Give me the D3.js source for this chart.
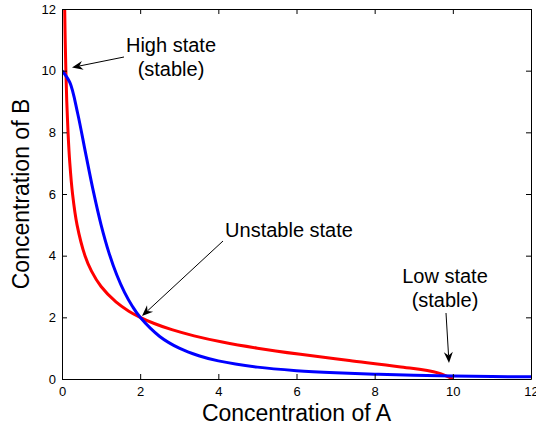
<!DOCTYPE html>
<html>
<head>
<meta charset="utf-8">
<script src="https://cdn.jsdelivr.net/npm/d3@7"></script>
<style>
  html, body { margin: 0; padding: 0; background: #fff; }
  svg { display: block; }
  text { font-family: "Liberation Sans", Arial, Helvetica, sans-serif; fill: #000; }
</style>
</head>
<body>
<svg id="chart" width="536" height="428"></svg>
<script>
// ---- Data ----
// Blue curve: B as a function of A
const blueA = [0, 0.2, 0.4, 0.6, 0.8, 1.0, 1.2, 1.4, 1.6, 1.8, 2.0, 2.5, 3.0, 3.5, 4.0, 5.0, 6.0, 7.0, 8.0, 9.0, 10.0, 11.0, 12.0];
const blueB = [10, 9.62, 8.62, 7.35, 6.10, 5.00, 4.10, 3.38, 2.81, 2.36, 2.00, 1.38, 1.00, 0.755, 0.588, 0.385, 0.270, 0.200, 0.154, 0.122, 0.099, 0.082, 0.069];
// Red curve: A as a function of B
const redB = [12.5, 12, 11, 10, 9, 8, 7, 6, 5, 4, 3.5, 3.0, 2.5, 2.2, 2.0, 1.8, 1.6, 1.4, 1.2, 1.0, 0.8, 0.6, 0.4, 0.2, 0];
const redA = [0.064, 0.069, 0.082, 0.099, 0.122, 0.154, 0.200, 0.270, 0.385, 0.588, 0.755, 1.00, 1.38, 1.71, 2.00, 2.36, 2.81, 3.38, 4.10, 5.00, 6.10, 7.35, 8.62, 9.62, 10.0];
// Steady states
const stateNames = ["High state|(stable)", "Unstable state", "Low state|(stable)"];
const stateA = [0.1, 2, 10];
const stateB = [10, 2, 0.1];
// Axis ticks
const xTicks = [0, 2, 4, 6, 8, 10, 12];
const yTicks = [0, 2, 4, 6, 8, 10, 12];
const xLabel = "Concentration of A";
const yLabel = "Concentration of B";

// ---- Layout ----
const svg = d3.select("#chart");
const L = 62, R = 531, T = 9, B = 379;
const x = d3.scaleLinear().domain([0, 12]).range([L, R]);
const y = d3.scaleLinear().domain([0, 12]).range([B, T]);

svg.append("rect").attr("width", 536).attr("height", 428).attr("fill", "#fff");

svg.append("defs").append("clipPath").attr("id", "clip")
  .append("rect").attr("x", L).attr("y", T).attr("width", R - L).attr("height", B - T);

// Curves
const line = d3.line().x(d => x(d[0])).y(d => y(d[1])).curve(d3.curveCatmullRom.alpha(0.5));
const redPts = redA.map((a, i) => [a, redB[i]]);
const bluePts = blueA.map((a, i) => [a, blueB[i]]);
const g = svg.append("g").attr("clip-path", "url(#clip)");
g.append("path").datum(redPts).attr("d", line).attr("fill", "none")
  .attr("stroke", "#ff0000").attr("stroke-width", 3).attr("stroke-linejoin", "round");
g.append("path").datum(bluePts).attr("d", line).attr("fill", "none")
  .attr("stroke", "#0000ff").attr("stroke-width", 3).attr("stroke-linejoin", "round");

// Axes (MATLAB style box, inward ticks)
function styleAxis(sel) {
  sel.selectAll("path.domain").attr("stroke", "#000").attr("stroke-width", 1);
  sel.selectAll(".tick line").attr("stroke", "#000").attr("stroke-width", 1);
  sel.selectAll(".tick text").style("font-size", "13px").attr("fill", "#000")
    .style("font-family", '"Liberation Sans", Arial, Helvetica, sans-serif');
}
svg.append("g").attr("transform", `translate(0,${B})`)
  .call(d3.axisBottom(x).tickValues(xTicks).tickSizeInner(-5).tickSizeOuter(0).tickPadding(8).tickFormat(d3.format("d")))
  .call(styleAxis);
svg.append("g").attr("transform", `translate(0,${T})`)
  .call(d3.axisTop(x).tickValues(xTicks).tickSizeInner(-5).tickSizeOuter(0).tickFormat(""))
  .call(styleAxis);
svg.append("g").attr("transform", `translate(${L},0)`)
  .call(d3.axisLeft(y).tickValues(yTicks).tickSizeInner(-5).tickSizeOuter(0).tickPadding(6).tickFormat(d3.format("d")))
  .call(styleAxis);
svg.append("g").attr("transform", `translate(${R},0)`)
  .call(d3.axisRight(y).tickValues(yTicks).tickSizeInner(-5).tickSizeOuter(0).tickFormat(""))
  .call(styleAxis);
svg.selectAll(".tick text").attr("fill", "#000");

// Axis labels
svg.append("text").attr("x", (L + R) / 2).attr("y", 421).attr("text-anchor", "middle")
  .style("font-size", "23px").text(xLabel);
svg.append("text").attr("transform", `translate(29,${(T + B) / 2}) rotate(-90)`)
  .attr("text-anchor", "middle").style("font-size", "23px").text(yLabel);

// Annotations: text placement and arrow offsets (pixels) relative to each state
const annot = [
  { tx: 171, ty: 52, lh: 24, tail: [124, 57], tip: [72, 67.5] },
  { tx: 289, ty: 237, lh: 24, tail: [223, 241], tip: [142, 316] },
  { tx: 445, ty: 283, lh: 24, tail: [446, 313], tip: [449, 363] }
];
const arrowG = svg.append("g");
stateNames.forEach((name, i) => {
  const a = annot[i];
  const t = svg.append("text").attr("text-anchor", "middle").style("font-size", "20px");
  name.split("|").forEach((ln, k) => {
    t.append("tspan").attr("x", a.tx).attr("y", a.ty + k * a.lh).text(ln);
  });
  // arrow: tip location nudged from the state point
  const tipX = a.tip[0], tipY = a.tip[1];
  const dx = tipX - a.tail[0], dy = tipY - a.tail[1];
  const len = Math.hypot(dx, dy), ux = dx / len, uy = dy / len;
  const hl = 11, hw = 4.5, notch = 3.5;
  const bx = tipX - ux * hl, by = tipY - uy * hl;
  const px = -uy, py = ux;
  arrowG.append("line").attr("x1", a.tail[0]).attr("y1", a.tail[1])
    .attr("x2", tipX - ux * (hl - notch)).attr("y2", tipY - uy * (hl - notch))
    .attr("stroke", "#000").attr("stroke-width", 1);
  const nx = tipX - ux * (hl - notch), ny = tipY - uy * (hl - notch);
  arrowG.append("path")
    .attr("d", `M${tipX},${tipY}L${bx + px * hw},${by + py * hw}L${nx},${ny}L${bx - px * hw},${by - py * hw}Z`)
    .attr("fill", "#000");
});
</script>
</body>
</html>
